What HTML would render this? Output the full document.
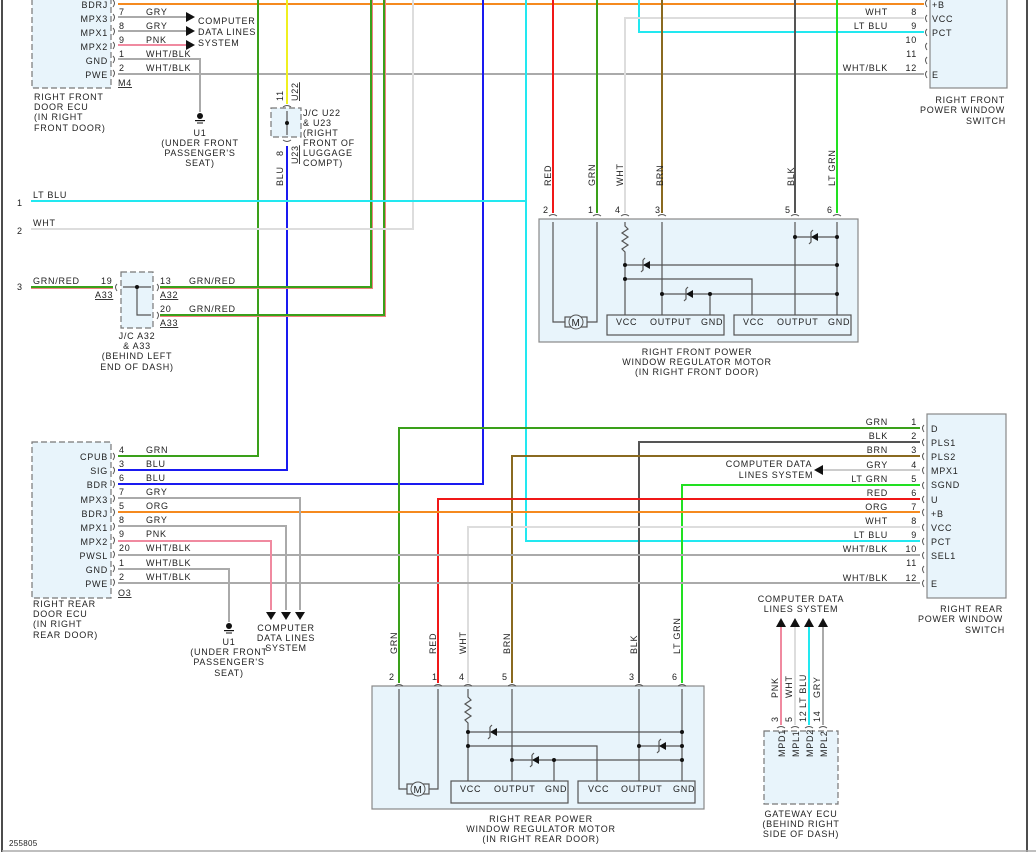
<!DOCTYPE html>
<html><head><meta charset="utf-8"><style>
html,body{margin:0;padding:0;background:#fff}
svg{display:block}
text{font-family:"Liberation Sans",sans-serif;font-size:9px;fill:#222;letter-spacing:0.75px}
.b{fill:#e8f4fb;stroke:#888;stroke-width:1.2}
.d{fill:#e8f4fb;stroke:#777;stroke-width:1.2;stroke-dasharray:6,3}
.w{fill:none;stroke-width:2}
.k{fill:none;stroke:#555;stroke-width:1.2}
.c{fill:none;stroke:#555;stroke-width:1}
.m{text-anchor:middle}.e{text-anchor:end}
</style></head><body>
<svg width="1036" height="852" viewBox="0 0 1036 852" xmlns="http://www.w3.org/2000/svg">
<rect x="0" y="0" width="1036" height="852" fill="#fff"/>
<line x1="2" y1="0" x2="2" y2="852" stroke="#111" stroke-width="1.5"/>
<line x1="1027" y1="0" x2="1027" y2="852" stroke="#111" stroke-width="1.5"/>
<line x1="2" y1="851" x2="1036" y2="851" stroke="#aaa" stroke-width="1.5"/>

<rect class="d" x="32" y="-4" width="79" height="92"/>
<rect class="b" x="930" y="-4" width="77" height="92"/>
<rect class="d" x="271" y="108" width="30" height="29"/>
<rect class="d" x="121" y="272" width="32" height="56"/>
<rect class="b" x="539" y="219" width="319" height="123"/>
<rect class="d" x="32" y="442" width="79" height="156"/>
<rect class="b" x="927" y="414" width="79" height="184"/>
<rect class="b" x="372" y="686" width="332" height="123"/>
<rect class="d" x="764" y="731" width="74" height="73"/>

<polyline class="w" stroke="#f58a1f" points="118,4 924,4"/>
<polyline class="w" stroke="#aaa" points="118,17 190,17"/>
<polyline class="w" stroke="#aaa" points="118,31 190,31"/>
<polyline class="w" stroke="#f08aa0" points="118,45 190,45"/>
<polyline class="w" stroke="#aaa" points="118,59 200,59 200,112"/>
<polyline class="w" stroke="#aaa" points="118,74 924,74"/>
<polyline class="w" stroke="#3aa01a" points="258,0 258,456 118,456"/>
<polyline class="w" stroke="#f0f020" points="287,0 287,104"/>
<polyline class="w" stroke="#1a1af0" points="287,146 287,470 118,470"/>
<polyline class="w" stroke="#f08080" points="31,288 113,288"/>
<polyline class="w" stroke="#3aa01a" points="31,287 113,287"/>
<polyline class="w" stroke="#f08080" points="160,288 372,288 372,0"/>
<polyline class="w" stroke="#3aa01a" points="160,287 371,287 371,0"/>
<polyline class="w" stroke="#f08080" points="160,316 385,316 385,0"/>
<polyline class="w" stroke="#3aa01a" points="160,315 384,315 384,0"/>
<polyline class="w" stroke="#ddd" points="31,229 413,229 413,0"/>
<polyline class="w" stroke="#1a1af0" points="483,0 483,484 118,484"/>
<polyline class="w" stroke="#22e8f0" points="31,201 526,201"/>
<polyline class="w" stroke="#22e8f0" points="526,0 526,541 920,541"/>
<polyline class="w" stroke="#22e8f0" points="639,0 639,32 924,32"/>
<polyline class="w" stroke="#ddd" points="924,18 625,18 625,213"/>
<polyline class="w" stroke="#f01818" points="553,0 553,213"/>
<polyline class="w" stroke="#3aa01a" points="597,0 597,213"/>
<polyline class="w" stroke="#8a6a20" points="662,0 662,213"/>
<polyline class="w" stroke="#555" points="795,0 795,213"/>
<polyline class="w" stroke="#22e022" points="837,0 837,213"/>

<polyline class="w" stroke="#3aa01a" points="920,428 399,428 399,683"/>
<polyline class="w" stroke="#555" points="920,442 639,442 639,683"/>
<polyline class="w" stroke="#8a6a20" points="920,456 512,456 512,683"/>
<polyline class="w" stroke="#ccc" points="920,470 820,470"/>
<polyline class="w" stroke="#22e022" points="920,485 682,485 682,683"/>
<polyline class="w" stroke="#f01818" points="920,499 438,499 438,683"/>
<polyline class="w" stroke="#f58a1f" points="118,512 920,512"/>
<polyline class="w" stroke="#ddd" points="920,527 468,527 468,683"/>
<polyline class="w" stroke="#aaa" points="118,555 920,555"/>
<polyline class="w" stroke="#aaa" points="118,583 920,583"/>
<polyline class="w" stroke="#aaa" points="118,498 300,498 300,610"/>
<polyline class="w" stroke="#aaa" points="118,526 286,526 286,610"/>
<polyline class="w" stroke="#f08aa0" points="118,541 271,541 271,610"/>
<polyline class="w" stroke="#aaa" points="118,569 229,569 229,622"/>
<polyline class="w" stroke="#f08aa0" points="781,725 781,626"/>
<polyline class="w" stroke="#ddd" points="795,725 795,626"/>
<polyline class="w" stroke="#22e8f0" points="809,725 809,626"/>
<polyline class="w" stroke="#aaa" points="823,725 823,626"/>

<g fill="#111">
<polygon points="186,12 195,17 186,22"/><polygon points="186,26 195,31 186,36"/><polygon points="186,40 195,45 186,50"/>
<polygon points="266,612 276,612 271,620"/><polygon points="281,612 291,612 286,620"/><polygon points="295,612 305,612 300,620"/>
<polygon points="823,465 823,475 814,470"/>
<polygon points="776,627 786,627 781,618"/><polygon points="790,627 800,627 795,618"/><polygon points="804,627 814,627 809,618"/><polygon points="818,627 828,627 823,618"/>
</g>
<g fill="#111"><circle cx="200" cy="116" r="3"/><rect x="195" y="120" width="10" height="1.2"/><rect x="197" y="122.5" width="6" height="1"/>
<circle cx="229" cy="626" r="3"/><rect x="224" y="630" width="10" height="1.2"/><rect x="226" y="632.5" width="6" height="1"/></g>

<g class="c">
<path d="M113,0 q3,3 0,7 M113,14 q3,3 0,7 M113,28 q3,3 0,7 M113,42 q3,3 0,7 M113,56 q3,3 0,7 M113,70 q3,3 0,7"/>
<path d="M113,453 q3,3 0,7 M113,467 q3,3 0,7 M113,481 q3,3 0,7 M113,495 q3,3 0,7 M113,509 q3,3 0,7 M113,523 q3,3 0,7 M113,537 q3,3 0,7 M113,551 q3,3 0,7 M113,565 q3,3 0,7 M113,579 q3,3 0,7"/>
<path d="M927,0 q-3,3 0,7 M927,15 q-3,3 0,7 M927,29 q-3,3 0,7 M927,43 q-3,3 0,7 M927,57 q-3,3 0,7 M927,71 q-3,3 0,7"/>
<path d="M924,425 q-3,3 0,7 M924,439 q-3,3 0,7 M924,453 q-3,3 0,7 M924,467 q-3,3 0,7 M924,482 q-3,3 0,7 M924,496 q-3,3 0,7 M924,509 q-3,3 0,7 M924,524 q-3,3 0,7 M924,538 q-3,3 0,7 M924,552 q-3,3 0,7 M924,566 q-3,3 0,7 M924,580 q-3,3 0,7"/>
<path d="M117,284 q-3,3 0,7 M157,284 q3,3 0,7 M157,312 q3,3 0,7"/>
<path d="M283,107 q4,-3 8,0 M283,140 q4,3 8,0"/>
<path d="M549,216 q4,-3 8,0 M593,216 q4,-3 8,0 M621,216 q4,-3 8,0 M658,216 q4,-3 8,0 M791,216 q4,-3 8,0 M833,216 q4,-3 8,0"/>
<path d="M395,686 q4,-3 8,0 M434,686 q4,-3 8,0 M464,686 q4,-3 8,0 M508,686 q4,-3 8,0 M635,686 q4,-3 8,0 M678,686 q4,-3 8,0"/>
<path d="M777,728 q4,-3 8,0 M791,728 q4,-3 8,0 M805,728 q4,-3 8,0 M819,728 q4,-3 8,0"/>
</g>
<g class="k"><path d="M287,111 V135 M123,287 H151 M137,287 V315 H151"/></g>
<g fill="#111"><circle cx="287" cy="123" r="2"/><circle cx="137" cy="287" r="2"/></g>

<g class="k">
<path d="M553,222 V322 H565 M597,222 V322 H587"/>
<path d="M625,222 V226 l3,3 -6,4 6,4 -6,4 6,4 -6,4 3,3 V315"/>
<path d="M662,222 V315 M795,222 V315 M837,222 V315"/>
<path d="M795,237 H837 M625,265 H837 M625,279 H752 V315 M662,294 H837 M710,294 V315"/>
<rect x="607" y="315" width="117" height="20"/><rect x="734" y="315" width="117" height="20"/>
<rect x="565" y="317" width="22" height="10" fill="#e8f4fb"/>
</g>
<circle cx="576" cy="322" r="7" fill="#e8f4fb" stroke="#555"/>
<text x="576" y="326" class="m" style="font-size:10px">M</text>
<g fill="#111">
<circle cx="795" cy="237" r="2"/><circle cx="837" cy="237" r="2"/><circle cx="625" cy="265" r="2"/><circle cx="837" cy="265" r="2"/><circle cx="625" cy="279" r="2"/><circle cx="662" cy="294" r="2"/><circle cx="710" cy="294" r="2"/><circle cx="837" cy="294" r="2"/>
<polygon points="811,237 818,233 818,241"/><polygon points="643,265 650,261 650,269"/><polygon points="686,294 693,290 693,298"/>
</g>
<g class="k"><path d="M811,232 v10 l-2,2 M811,232 l2,-2 M643,260 v10 l-2,2 M643,260 l2,-2 M686,289 v10 l-2,2 M686,289 l2,-2"/></g>

<g class="k">
<path d="M399,689 V789 H410 M438,689 V789 H427"/>
<path d="M468,689 V697 l3,3 -6,4 6,4 -6,4 6,4 -6,4 3,3 V781"/>
<path d="M512,689 V781 M639,689 V781 M682,689 V781"/>
<path d="M468,732 H682 M468,746 H597 V781 M639,746 H682 M512,760 H682 M554,760 V781"/>
<rect x="451" y="781" width="117" height="22"/><rect x="578" y="781" width="117" height="22"/>
<rect x="407" y="784" width="22" height="10" fill="#e8f4fb"/>
</g>
<circle cx="418" cy="789" r="7" fill="#e8f4fb" stroke="#555"/>
<text x="418" y="793" class="m" style="font-size:10px">M</text>
<g fill="#111">
<circle cx="468" cy="732" r="2"/><circle cx="682" cy="732" r="2"/><circle cx="468" cy="746" r="2"/><circle cx="639" cy="746" r="2"/><circle cx="682" cy="746" r="2"/><circle cx="512" cy="760" r="2"/><circle cx="554" cy="760" r="2"/><circle cx="682" cy="760" r="2"/>
<polygon points="490,732 497,728 497,736"/><polygon points="659,746 666,742 666,750"/><polygon points="532,760 539,756 539,764"/>
</g>
<g class="k"><path d="M490,727 v10 l-2,2 M490,727 l2,-2 M659,741 v10 l-2,2 M659,741 l2,-2 M532,755 v10 l-2,2 M532,755 l2,-2"/></g>

<g class="e"><text x="108" y="8">BDRJ</text><text x="108" y="22">MPX3</text><text x="108" y="36">MPX1</text><text x="108" y="50">MPX2</text><text x="108" y="64">GND</text><text x="108" y="78">PWE</text></g>
<text x="119" y="15">7</text><text x="119" y="29">8</text><text x="119" y="43">9</text><text x="119" y="57">1</text><text x="119" y="71">2</text>
<text x="146" y="15">GRY</text><text x="146" y="29">GRY</text><text x="146" y="43">PNK</text><text x="146" y="57">WHT/BLK</text><text x="146" y="71">WHT/BLK</text>
<text x="118" y="86" text-decoration="underline">M4</text>
<text x="198" y="24">COMPUTER</text><text x="198" y="35">DATA LINES</text><text x="198" y="46">SYSTEM</text>
<text x="34" y="100">RIGHT FRONT</text><text x="34" y="110">DOOR ECU</text><text x="34" y="120">(IN RIGHT</text><text x="34" y="131">FRONT DOOR)</text>
<g class="m"><text x="200" y="136">U1</text><text x="200" y="146">(UNDER FRONT</text><text x="200" y="156">PASSENGER'S</text><text x="200" y="166">SEAT)</text></g>
<text transform="translate(283,101) rotate(-90)">11</text>
<text transform="translate(298,101) rotate(-90)" text-decoration="underline">U22</text>
<text transform="translate(283,156) rotate(-90)">8</text>
<text transform="translate(298,164) rotate(-90)" text-decoration="underline">U23</text>
<text transform="translate(283,186) rotate(-90)">BLU</text>
<text x="303" y="116">J/C U22</text><text x="303" y="126">&amp; U23</text><text x="303" y="136">(RIGHT</text><text x="303" y="146">FRONT OF</text><text x="303" y="156">LUGGAGE</text><text x="303" y="166">COMPT)</text>
<text x="17" y="206">1</text><text x="33" y="198">LT BLU</text>
<text x="17" y="234">2</text><text x="33" y="226">WHT</text>
<text x="17" y="290">3</text><text x="33" y="284">GRN/RED</text>
<text x="101" y="284">19</text><text x="95" y="298" text-decoration="underline">A33</text>
<text x="160" y="284">13</text><text x="160" y="298" text-decoration="underline">A32</text>
<text x="160" y="312">20</text><text x="160" y="326" text-decoration="underline">A33</text>
<text x="189" y="284">GRN/RED</text><text x="189" y="312">GRN/RED</text>
<g class="m"><text x="137" y="339">J/C A32</text><text x="137" y="349">&amp; A33</text><text x="137" y="359">(BEHIND LEFT</text><text x="137" y="370">END OF DASH)</text></g>
<g class="e"><text x="888" y="15">WHT</text><text x="888" y="29">LT BLU</text><text x="888" y="71">WHT/BLK</text>
<text x="917" y="15">8</text><text x="917" y="29">9</text><text x="917" y="43">10</text><text x="917" y="57">11</text><text x="917" y="71">12</text></g>
<text x="932" y="8">+B</text><text x="932" y="22">VCC</text><text x="932" y="36">PCT</text><text x="932" y="78">E</text>
<g class="e"><text x="1005" y="103">RIGHT FRONT</text><text x="1005" y="113">POWER WINDOW</text><text x="1006" y="124">SWITCH</text></g>
<g><text transform="translate(551,186) rotate(-90)">RED</text><text transform="translate(595,186) rotate(-90)">GRN</text><text transform="translate(623,186) rotate(-90)">WHT</text><text transform="translate(663,186) rotate(-90)">BRN</text><text transform="translate(794,186) rotate(-90)">BLK</text><text transform="translate(835,186) rotate(-90)">LT GRN</text></g>
<text x="543" y="213">2</text><text x="588" y="213">1</text><text x="615" y="213">4</text><text x="655" y="213">3</text><text x="785" y="213">5</text><text x="827" y="213">6</text>
<text x="616" y="325">VCC</text><text x="650" y="325">OUTPUT</text><text x="701" y="325">GND</text>
<text x="743" y="325">VCC</text><text x="777" y="325">OUTPUT</text><text x="828" y="325">GND</text>
<g class="m"><text x="697" y="355">RIGHT FRONT POWER</text><text x="697" y="365">WINDOW REGULATOR MOTOR</text><text x="697" y="375">(IN RIGHT FRONT DOOR)</text></g>
<g class="e"><text x="108" y="460">CPUB</text><text x="108" y="474">SIG</text><text x="108" y="488">BDR</text><text x="108" y="503">MPX3</text><text x="108" y="517">BDRJ</text><text x="108" y="531">MPX1</text><text x="108" y="545">MPX2</text><text x="108" y="559">PWSL</text><text x="108" y="573">GND</text><text x="108" y="587">PWE</text></g>
<text x="119" y="453">4</text><text x="119" y="467">3</text><text x="119" y="481">6</text><text x="119" y="495">7</text><text x="119" y="509">5</text><text x="119" y="523">8</text><text x="119" y="537">9</text><text x="119" y="551">20</text><text x="119" y="566">1</text><text x="119" y="580">2</text>
<text x="146" y="453">GRN</text><text x="146" y="467">BLU</text><text x="146" y="481">BLU</text><text x="146" y="495">GRY</text><text x="146" y="509">ORG</text><text x="146" y="523">GRY</text><text x="146" y="537">PNK</text><text x="146" y="551">WHT/BLK</text><text x="146" y="566">WHT/BLK</text><text x="146" y="580">WHT/BLK</text>
<text x="118" y="596" text-decoration="underline">O3</text>
<text x="33" y="607">RIGHT REAR</text><text x="33" y="617">DOOR ECU</text><text x="33" y="627">(IN RIGHT</text><text x="33" y="638">REAR DOOR)</text>
<g class="m"><text x="229" y="645">U1</text><text x="229" y="655">(UNDER FRONT</text><text x="229" y="665">PASSENGER'S</text><text x="229" y="676">SEAT)</text>
<text x="286" y="631">COMPUTER</text><text x="286" y="641">DATA LINES</text><text x="286" y="651">SYSTEM</text></g>
<g class="e"><text x="888" y="425">GRN</text><text x="888" y="439">BLK</text><text x="888" y="453">BRN</text><text x="888" y="468">GRY</text><text x="888" y="482">LT GRN</text><text x="888" y="496">RED</text><text x="888" y="510">ORG</text><text x="888" y="524">WHT</text><text x="888" y="538">LT BLU</text><text x="888" y="552">WHT/BLK</text><text x="888" y="581">WHT/BLK</text>
<text x="917" y="425">1</text><text x="917" y="439">2</text><text x="917" y="453">3</text><text x="917" y="468">4</text><text x="917" y="482">5</text><text x="917" y="496">6</text><text x="917" y="510">7</text><text x="917" y="524">8</text><text x="917" y="538">9</text><text x="917" y="552">10</text><text x="917" y="566">11</text><text x="917" y="581">12</text></g>
<text x="931" y="432">D</text><text x="931" y="446">PLS1</text><text x="931" y="460">PLS2</text><text x="931" y="474">MPX1</text><text x="931" y="488">SGND</text><text x="931" y="503">U</text><text x="931" y="517">+B</text><text x="931" y="531">VCC</text><text x="931" y="545">PCT</text><text x="931" y="559">SEL1</text><text x="931" y="587">E</text>
<g class="m"><text x="769" y="467">COMPUTER DATA</text><text x="776" y="478">LINES SYSTEM</text></g>
<g class="e"><text x="1003" y="612">RIGHT REAR</text><text x="1003" y="622">POWER WINDOW</text><text x="1005" y="633">SWITCH</text></g>
<text transform="translate(397,654) rotate(-90)">GRN</text><text transform="translate(436,654) rotate(-90)">RED</text><text transform="translate(466,654) rotate(-90)">WHT</text><text transform="translate(510,654) rotate(-90)">BRN</text><text transform="translate(637,654) rotate(-90)">BLK</text><text transform="translate(680,654) rotate(-90)">LT GRN</text>
<text x="389" y="680">2</text><text x="432" y="680">1</text><text x="459" y="680">4</text><text x="502" y="680">5</text><text x="629" y="680">3</text><text x="672" y="680">6</text>
<text x="460" y="792">VCC</text><text x="494" y="792">OUTPUT</text><text x="545" y="792">GND</text>
<text x="588" y="792">VCC</text><text x="621" y="792">OUTPUT</text><text x="673" y="792">GND</text>
<g class="m"><text x="541" y="822">RIGHT REAR POWER</text><text x="541" y="832">WINDOW REGULATOR MOTOR</text><text x="541" y="842">(IN RIGHT REAR DOOR)</text></g>
<g class="m"><text x="801" y="602">COMPUTER DATA</text><text x="801" y="612">LINES SYSTEM</text>
<text x="801" y="817">GATEWAY ECU</text><text x="801" y="827">(BEHIND RIGHT</text><text x="801" y="837">SIDE OF DASH)</text></g>
<text transform="translate(778,698) rotate(-90)">PNK</text><text transform="translate(792,698) rotate(-90)">WHT</text><text transform="translate(806,708) rotate(-90)">LT BLU</text><text transform="translate(820,698) rotate(-90)">GRY</text>
<text transform="translate(778,722) rotate(-90)">3</text><text transform="translate(792,722) rotate(-90)">5</text><text transform="translate(806,722) rotate(-90)">12</text><text transform="translate(820,722) rotate(-90)">14</text>
<text transform="translate(785,757) rotate(-90)">MPD1</text><text transform="translate(799,757) rotate(-90)">MPL1</text><text transform="translate(813,757) rotate(-90)">MPD2</text><text transform="translate(827,757) rotate(-90)">MPL2</text>
<text x="9" y="846" style="font-size:8px;letter-spacing:0.3px">255805</text>
</svg>
</body></html>
